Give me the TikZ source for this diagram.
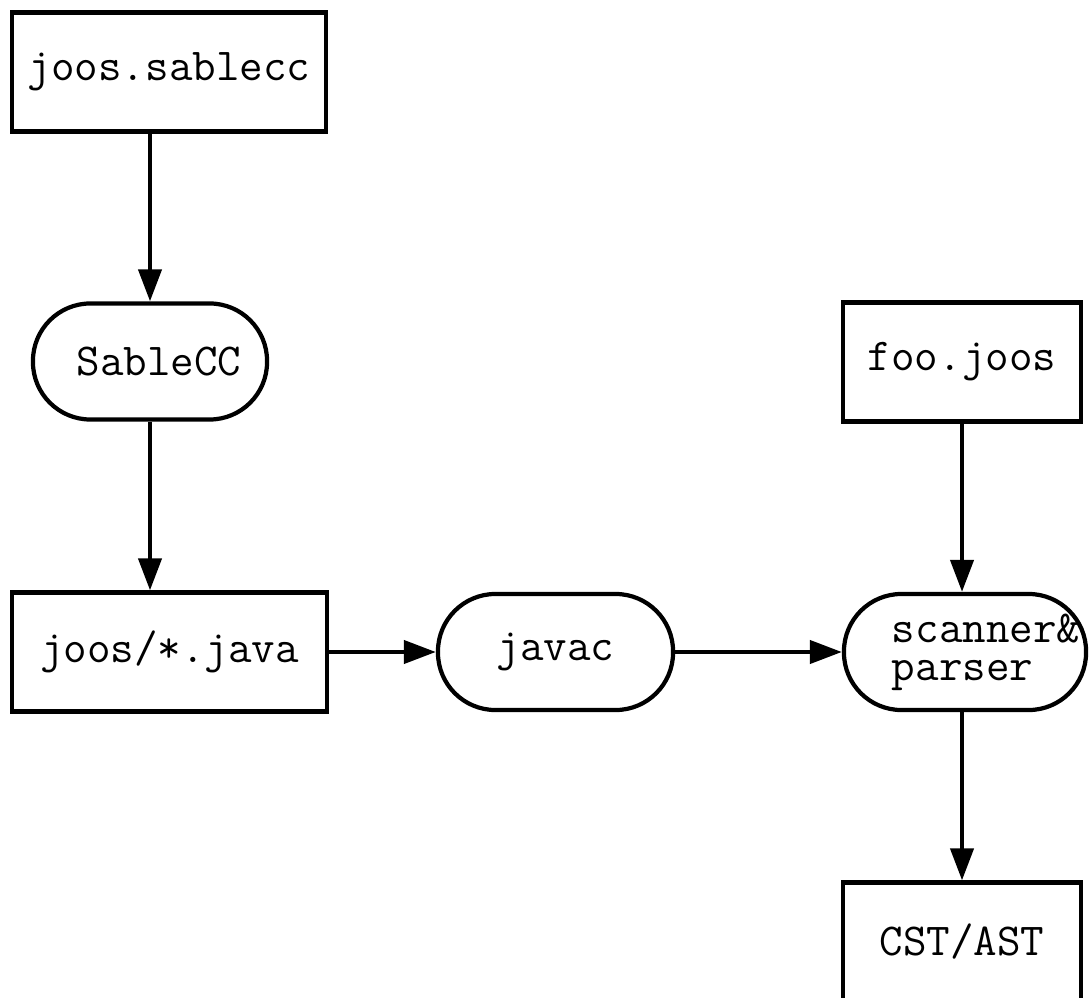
\documentclass[tikz,border=0pt]{standalone}
\usetikzlibrary{arrows.meta}
\begin{document}
\begin{tikzpicture}[x=0.01cm,y=-0.01cm,
  every node/.style={font=\ttfamily\fontsize{13}{10.8}\selectfont, inner sep=0pt},
  filebox/.style={draw, line width=1.2pt, rectangle, minimum width=#1, minimum height=1.19cm},
  procbox/.style={draw, line width=1.2pt, rectangle, rounded corners=0.575cm, minimum width=#1, minimum height=1.16cm},
  arr/.style={line width=1.2pt, -{Triangle[length=0.32cm,width=0.23cm]}}]
\useasboundingbox (0,0) rectangle (1089,998);
\node[filebox=3.14cm] (a) at (169,72) {joos.sablecc};
\node[procbox=2.34cm] (s) at (150,361.5) {\hspace*{0.18cm}SableCC};
\node[filebox=3.15cm] (j) at (169.5,652) {joos/*.java};
\node[procbox=2.35cm] (v) at (555.5,652) {javac};
\node[procbox=2.42cm, text width=2.32cm, align=left] (p) at (965,652) {\hspace*{0.43cm}scanner\&\\\hspace*{0.43cm}parser};
\node[filebox=2.38cm] (f) at (962,362) {foo.joos};
\node[filebox=2.38cm] (c) at (962,942) {CST/AST};
\draw[arr] (a.south -| s.north) -- (s.north);
\draw[arr] (s.south) -- (s.south |- j.north);
\draw[arr] (j.east) -- (v.west);
\draw[arr] (v.east) -- (p.west);
\draw[arr] (f.south) -- (f.south |- p.north);
\draw[arr] (c.north |- p.south) -- (c.north);
\end{tikzpicture}
\end{document}
